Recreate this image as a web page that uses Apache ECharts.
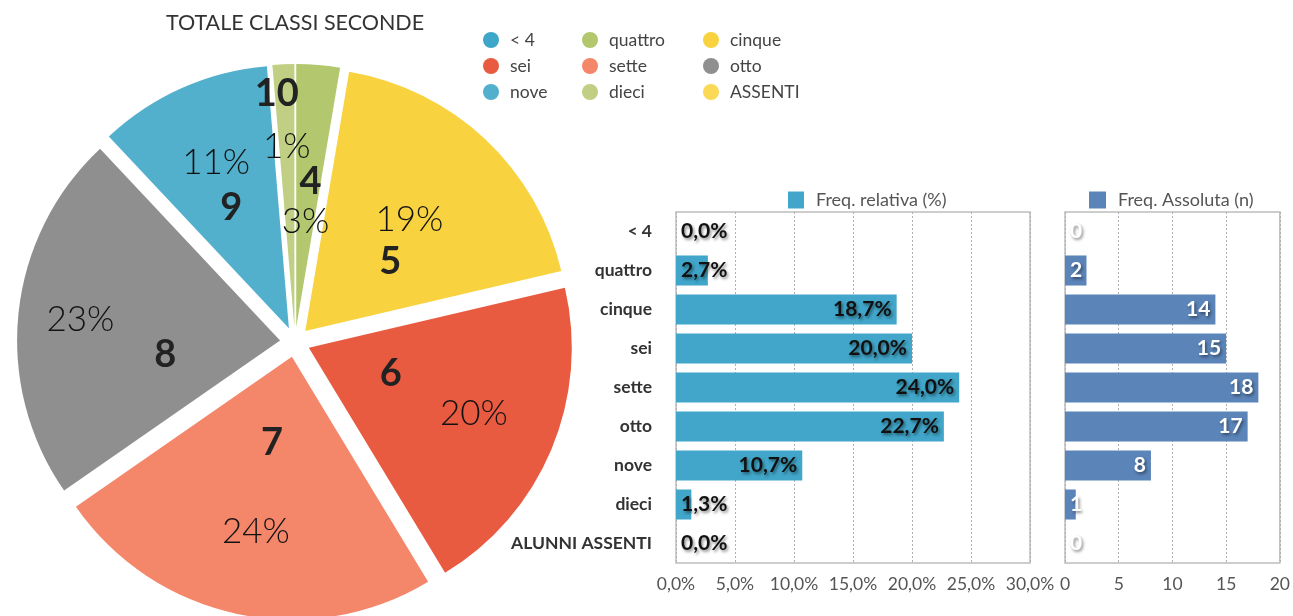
<!DOCTYPE html>
<html><head><meta charset="utf-8">
<script src="https://cdn.jsdelivr.net/npm/echarts@6/dist/echarts.min.js"></script>
<style>html,body{margin:0;padding:0;background:#fff}#c{width:1293px;height:616px}</style>
</head><body><div id="c"></div><script>
// ---- data ----
const pieNames = ['< 4', 'quattro', 'cinque', 'sei', 'sette', 'otto', 'nove', 'dieci', 'ASSENTI'];
const pieGrades = ['< 4', '4', '5', '6', '7', '8', '9', '10', 'A'];
const counts = [0, 2, 14, 15, 18, 17, 8, 1, 0];
const relFreq = [0.0, 2.7, 18.7, 20.0, 24.0, 22.7, 10.7, 1.3, 0.0];
const barCategories = ['< 4', 'quattro', 'cinque', 'sei', 'sette', 'otto', 'nove', 'dieci', 'ALUNNI ASSENTI'];
const titleText = 'TOTALE CLASSI SECONDE';
const relName = 'Freq. relativa (%)';
const absName = 'Freq. Assoluta (n)';

// ---- styling ----
const pieColors = ['#3ea6c8', '#b3c76e', '#f9d23f', '#e95b41', '#f4866a', '#8f8f8f', '#52b0cd', '#c0cf83', '#fbd855'];
const numShift = [[0,0],[3,-11],[-7,29],[-42,-26],[8,-45],[19,28],[-3,2],[-12,-99],[0,0]];
const pctShift = [[0,0],[-2,29],[12,-13],[41,14],[-8,43],[-66,-7],[-18,-43],[-2,-46],[0,0]];
const FONT = 'Lato';

const total = counts.reduce((a, b) => a + b, 0);
const fmtPct = v => v.toFixed(1).replace('.', ',') + '%';

function pieData(transparent) {
  return pieNames.map((n, i) => ({
    name: n, value: counts[i], selected: true,
    itemStyle: { color: transparent ? 'rgba(0,0,0,0)' : pieColors[i] }
  }));
}

const pieCommon = {
  type: 'pie', center: [295, 342], radius: 263, startAngle: 90, clockwise: true,
  selectedMode: 'multiple', selectedOffset: 15, avoidLabelOverlap: false,
  minShowLabelAngle: 1, labelLine: { show: false }, emphasis: { disabled: true }
};

const legendCols = [[0, 3, 6], [1, 4, 7], [2, 5, 8]];
const legendLefts = [483, 582, 703];
const pieLegends = legendCols.map((col, k) => ({
  orient: 'vertical', left: legendLefts[k], top: 31, padding: 0, itemGap: 8, icon: 'circle',
  itemWidth: 16, itemHeight: 16, selectedMode: false,
  textStyle: { fontFamily: FONT, fontSize: 17.5, color: '#444', padding: [0, 0, 0, 6] },
  data: col.map(i => ({ name: pieNames[i], itemStyle: { color: pieColors[i] } }))
}));

const barLabelShadow = { textShadowColor: 'rgba(0,0,0,0.45)', textShadowBlur: 3, textShadowOffsetX: 1.5, textShadowOffsetY: 1.5 };

const option = {
  animation: false,
  backgroundColor: '#fff',
  title: { text: titleText, left: 295, top: 12, padding: 0, textAlign: 'center',
    textStyle: { fontFamily: FONT, fontSize: 21.5, fontWeight: 'normal', color: '#333' } },
  legend: pieLegends.concat([
    { left: 788, top: 191, padding: 0, icon: 'rect', itemWidth: 16, itemHeight: 17, selectedMode: false,
      textStyle: { fontFamily: FONT, fontSize: 18, color: '#555', padding: [0,0,0,7] }, data: [relName] },
    { left: 1089, top: 191, padding: 0, icon: 'rect', itemWidth: 17, itemHeight: 17, selectedMode: false,
      textStyle: { fontFamily: FONT, fontSize: 18, color: '#555', padding: [0,0,0,7] }, data: [absName] }
  ]),
  grid: [
    { left: 676, right: 263, top: 212, bottom: 53, show: true, borderColor: '#bdbdbd', borderWidth: 1.5, backgroundColor: 'transparent' },
    { left: 1065, right: 9, top: 212, bottom: 53, show: true, borderColor: '#bdbdbd', borderWidth: 1.5, backgroundColor: 'transparent' }
  ],
  xAxis: [
    { gridIndex: 0, type: 'value', min: 0, max: 30, interval: 5,
      axisLine: { show: false }, axisTick: { show: false },
      splitLine: { lineStyle: { color: '#b0b0b0', type: [2, 2], width: 1 } },
      axisLabel: { formatter: v => fmtPct(v), fontFamily: FONT, fontSize: 17.5, color: '#555', margin: 12 } },
    { gridIndex: 1, type: 'value', min: 0, max: 20, interval: 5,
      axisLine: { show: false }, axisTick: { show: false },
      splitLine: { lineStyle: { color: '#b0b0b0', type: [2, 2], width: 1 } },
      axisLabel: { fontFamily: FONT, fontSize: 17.5, color: '#555', margin: 12 } }
  ],
  yAxis: [
    { gridIndex: 0, type: 'category', data: barCategories, inverse: true,
      axisLine: { show: false }, axisTick: { show: false },
      axisLabel: { fontFamily: FONT, fontSize: 17.5, fontWeight: 'bold', color: '#333', margin: 24 } },
    { gridIndex: 1, type: 'category', data: barCategories, inverse: true,
      axisLine: { show: false }, axisTick: { show: false }, axisLabel: { show: false } }
  ],
  series: [
    Object.assign({}, pieCommon, {
      name: 'Voti', data: pieData(false),
      label: { show: true, position: 'inside', formatter: p => pieGrades[p.dataIndex],
        fontFamily: FONT, fontSize: 38, fontWeight: 'bold', color: '#222' },
      labelLayout: p => ({ dx: numShift[p.dataIndex][0], dy: numShift[p.dataIndex][1] })
    }),
    Object.assign({}, pieCommon, {
      name: 'Percentuali', data: pieData(true), silent: true,
      label: { show: true, position: 'inside', formatter: p => Math.round(p.value / total * 100) + '%',
        fontFamily: FONT, fontSize: 35, fontWeight: 300, color: '#111' },
      labelLayout: p => ({ dx: pctShift[p.dataIndex][0], dy: pctShift[p.dataIndex][1] })
    }),
    { type: 'bar', name: relName, xAxisIndex: 0, yAxisIndex: 0, barCategoryGap: '23%',
      itemStyle: { color: '#41a6c9' },
      data: relFreq.map(v => ({ value: v, label: { position: v < 5 ? 'insideLeft' : 'insideRight' } })),
      label: Object.assign({ show: true, distance: 5, formatter: p => fmtPct(p.value),
        fontFamily: FONT, fontSize: 21, fontWeight: 'bold', color: '#111' }, barLabelShadow) },
    { type: 'bar', name: absName, xAxisIndex: 1, yAxisIndex: 1, barCategoryGap: '23%',
      itemStyle: { color: '#5b84b8' },
      data: counts.map(v => ({ value: v, label: { position: v < 3 ? 'insideLeft' : 'insideRight' } })),
      label: Object.assign({ show: true, distance: 5, fontFamily: FONT, fontSize: 21, fontWeight: 'bold', color: '#fff' }, barLabelShadow) }
  ]
};
const chart = echarts.init(document.getElementById('c'), null, { renderer: 'canvas' });
chart.setOption(option);
</script></body></html>
